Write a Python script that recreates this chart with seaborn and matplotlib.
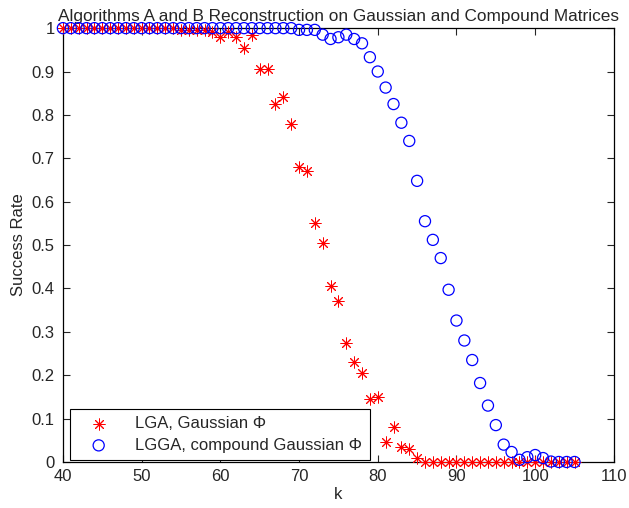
import numpy as np
import pandas as pd
import matplotlib
matplotlib.use("Agg")
import matplotlib.pyplot as plt
import seaborn as sns

# sparsity levels k
k_values = list(range(40, 106))

# success rate of LGA with Gaussian measurement matrix
lga_rate = ([1.0] * 15 +
            [0.995, 0.995, 0.995, 0.995, 0.992, 0.979, 0.992, 0.979, 0.955, 0.985,
             0.905, 0.905, 0.825, 0.842, 0.780, 0.680, 0.671, 0.551, 0.505, 0.405,
             0.370, 0.275, 0.230, 0.205, 0.145, 0.150, 0.045, 0.080, 0.035, 0.030,
             0.010] +
            [0.0] * 20)

# success rate of LGGA with compound Gaussian measurement matrix
lgga_rate = ([1.0] * 30 +
             [0.996, 0.996, 0.996, 0.985, 0.975, 0.979, 0.985, 0.975, 0.965, 0.933,
              0.900, 0.863, 0.825, 0.782, 0.740, 0.648, 0.555, 0.512, 0.470, 0.397,
              0.326, 0.280, 0.235, 0.182, 0.130, 0.085, 0.040, 0.023, 0.005, 0.011,
              0.016, 0.009, 0.001] +
             [0.0] * 3)

series_names = ["LGA, Gaussian \u03a6", "LGGA, compound Gaussian \u03a6"]
x_ticks = [40, 50, 60, 70, 80, 90, 100, 110]
y_ticks = [0, 0.1, 0.2, 0.3, 0.4, 0.5, 0.6, 0.7, 0.8, 0.9, 1]
y_tick_labels = ["0", "0.1", "0.2", "0.3", "0.4", "0.5", "0.6", "0.7", "0.8", "0.9", "1"]

df = pd.DataFrame({
    "k": k_values * 2,
    "rate": lga_rate + lgga_rate,
    "method": [series_names[0]] * len(k_values) + [series_names[1]] * len(k_values),
})

sns.set_style("ticks")
plt.rcParams["font.family"] = ["Liberation Sans", "DejaVu Sans"]
plt.rcParams["xtick.direction"] = "in"
plt.rcParams["ytick.direction"] = "in"

fig = plt.figure(figsize=(6.29, 5.08), dpi=100)
ax = fig.add_axes([0.100, 0.0906, 0.876, 0.854])

asterisk = (8, 2, 0)
sns.scatterplot(data=df[df["method"] == series_names[0]], x="k", y="rate",
                marker=asterisk, s=64, color="#ff0000", edgecolor="#ff0000",
                linewidth=0.7, ax=ax, label=series_names[0], clip_on=False, zorder=5)
sns.scatterplot(data=df[df["method"] == series_names[1]], x="k", y="rate",
                marker="o", s=64, facecolor="none", edgecolor="#0000ff",
                linewidth=0.9, ax=ax, label=series_names[1], clip_on=False, zorder=6)

ax.set_xlim(40, 110)
ax.set_ylim(0, 1)
ax.set_xticks(x_ticks)
ax.set_yticks(y_ticks)
ax.set_yticklabels(y_tick_labels)
ax.tick_params(axis="both", which="both", top=True, right=True, length=5,
               width=0.8, labelsize=12)
ax.tick_params(axis="x", pad=5)
ax.tick_params(axis="y", pad=6)
for sp in ax.spines.values():
    sp.set_visible(True)
    sp.set_linewidth(0.9)
    sp.set_color("black")

ax.set_xlabel("k", fontsize=12, labelpad=2)
ax.set_ylabel("Success Rate", fontsize=12, labelpad=4)
ax.set_title("Algorithms A and B Reconstruction on Gaussian and Compound Matrices",
             fontsize=12.4, pad=5)

leg = ax.legend(loc="lower left", bbox_to_anchor=(0.012, 0.004), borderaxespad=0,
                fontsize=12, frameon=True, fancybox=False, edgecolor="black",
                framealpha=1, handletextpad=0.9, borderpad=0.45, labelspacing=0.4,
                handlelength=2.6)
leg.get_frame().set_linewidth(0.8)
leg.set_zorder(10)

fig.savefig("out.png", dpi=100)
